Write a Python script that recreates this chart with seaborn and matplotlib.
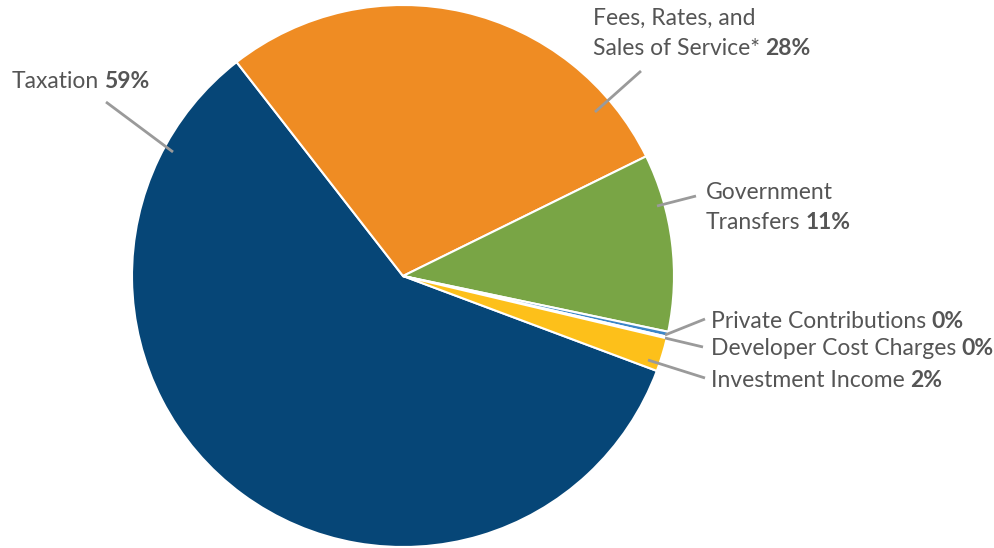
import matplotlib
matplotlib.use("Agg")
import matplotlib.pyplot as plt
import seaborn as sns

sns.set_theme(style="white")
plt.rcParams["font.family"] = ["Lato", "DejaVu Sans"]

# Revenue shares (percent), listed clockwise starting from Taxation
categories = ["Taxation", "Fees, Rates, and\nSales of Service*", "Government\nTransfers",
              "Private Contributions", "Developer Cost Charges", "Investment Income"]
values = [58.9, 28.3, 10.6, 0.3, 0.1, 2.0]
colors = ["#064677", "#ef8c23", "#79a545", "#3b86c8", "#d9d9d9", "#fdc01a"]

W, H = 995, 548
fig = plt.figure(figsize=(W / 100, H / 100), dpi=100)
ax = fig.add_axes([0, 0, 1, 1])
ax.set_xlim(0, W)
ax.set_ylim(0, H)
ax.set_aspect("equal")
ax.axis("off")

cx, cy, r = 403, 272, 271
ax.pie(values, colors=colors, startangle=-20.5, counterclock=False,
       center=(cx, cy), radius=r,
       wedgeprops=dict(edgecolor="white", linewidth=1.5))
ax.set_xlim(0, W)
ax.set_ylim(0, H)

txt_color = "#555555"
line_color = "#9a9a9a"
fs = 16.5

# label anchor (left x, baseline y of last line, in top-down pixels) and leader lines
label_pos = [(12, 88), (593, 55), (706, 229), (711, 328), (711, 355), (711, 387)]
leaders = [((106, 102), (173, 152)),
           ((641, 71), (595, 112)),
           ((696, 196), (657, 206)),
           ((705, 319), (665, 335)),
           ((703, 347), (665, 338)),
           ((705, 378), (648, 360))]

for (p0, p1) in leaders:
    ax.plot([p0[0], p1[0]], [H - p0[1], H - p1[1]], color=line_color, lw=2,
            solid_capstyle="butt")

fig.canvas.draw()
renderer = fig.canvas.get_renderer()
line_h = 30
for cat, val, (x, yb) in zip(categories, values, label_pos):
    lines = cat.split("\n")
    n = len(lines)
    for i, ln in enumerate(lines):
        y = H - (yb - (n - 1 - i) * line_h)
        t = ax.text(x, y, ln, fontsize=fs, color=txt_color, ha="left",
                    va="baseline")
        if i == n - 1:
            bb = t.get_window_extent(renderer=renderer)
            ax.text(bb.x1 + 5, y, f"{round(val)}%", fontsize=fs,
                    color=txt_color, fontweight="bold", ha="left",
                    va="baseline")

fig.savefig("out.png", dpi=100)
